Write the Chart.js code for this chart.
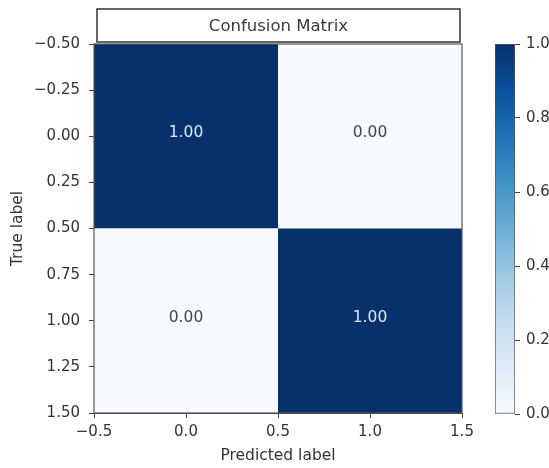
<!DOCTYPE html>
<html>
<head>
<meta charset="utf-8">
<script src="https://cdn.jsdelivr.net/npm/chart.js@4/dist/chart.umd.min.js"></script>
<style>
  html, body { margin: 0; padding: 0; background: #ffffff; }
  #wrap { position: relative; width: 549px; height: 468px; overflow: hidden; background: #fff; }
  #main { position: absolute; left: 0; top: 0; }
  #cbar { position: absolute; left: 480px; top: 0; }
</style>
</head>
<body>
<div id="wrap">
  <canvas id="main" width="549" height="468"></canvas>
  <canvas id="cbar" width="69" height="468"></canvas>
</div>
<script>
// ---- data ----
const chartTitle = 'Confusion Matrix';
const predictedLabels = [0, 1];          // columns (x)
const trueLabels = [0, 1];               // rows (y)
const row0Values = [1.00, 0.00];
const row1Values = [0.00, 1.00];
const xTickValues = [-0.5, 0.0, 0.5, 1.0, 1.5];
const yTickValues = [-0.5, -0.25, 0.0, 0.25, 0.5, 0.75, 1.0, 1.25, 1.5];
const colorbarTicks = [0.0, 0.2, 0.4, 0.6, 0.8, 1.0];
const matrixRows = [row0Values, row1Values];

// Matplotlib "Blues" colormap stops
const bluesStops = ['#f7fbff','#deebf7','#c6dbef','#9ecae1','#6baed6','#4292c6','#2171b5','#08519c','#08306b'];
function hexToRgb(h){ return [parseInt(h.substr(1,2),16),parseInt(h.substr(3,2),16),parseInt(h.substr(5,2),16)]; }
function blues(v){
  v = Math.max(0, Math.min(1, v));
  const p = v * (bluesStops.length - 1);
  const i = Math.min(Math.floor(p), bluesStops.length - 2);
  const f = p - i;
  const a = hexToRgb(bluesStops[i]), b = hexToRgb(bluesStops[i+1]);
  const c = a.map((x, k) => Math.round(x + (b[k] - x) * f));
  return `rgb(${c[0]},${c[1]},${c[2]})`;
}
const fmtMinus = s => s.replace('-', '\u2212');
const FONT = '"DejaVu Sans", sans-serif';
const TXT = '#333333';

const heatmapPlugin = {
  id: 'heatmap',
  beforeDatasetsDraw(chart) {
    const {ctx, scales: {x, y}} = chart;
    ctx.save();
    trueLabels.forEach((r, ri) => {
      predictedLabels.forEach((c, ci) => {
        const v = matrixRows[ri][ci];
        const x0 = x.getPixelForValue(c - 0.5), x1 = x.getPixelForValue(c + 0.5);
        const y0 = y.getPixelForValue(r - 0.5), y1 = y.getPixelForValue(r + 0.5);
        ctx.fillStyle = blues(v);
        ctx.fillRect(Math.min(x0,x1), Math.min(y0,y1), Math.abs(x1-x0), Math.abs(y1-y0));
      });
    });
    trueLabels.forEach((r, ri) => {
      predictedLabels.forEach((c, ci) => {
        const v = matrixRows[ri][ci];
        ctx.fillStyle = v > 0.5 ? '#dde7f6' : '#444444';
        ctx.font = '15.5px ' + FONT;
        ctx.textAlign = 'center';
        ctx.textBaseline = 'middle';
        ctx.fillText(v.toFixed(2), x.getPixelForValue(c), y.getPixelForValue(r) - 3);
      });
    });
    ctx.restore();
  },
  afterDraw(chart) {
    const {ctx, chartArea: a} = chart;
    ctx.save();
    ctx.strokeStyle = '#555555';
    ctx.lineWidth = 1.2;
    ctx.strokeRect(a.left, a.top, a.right - a.left, a.bottom - a.top);
    // title box
    const bx0 = a.left + 3, bx1 = a.right - 2, by0 = 9, by1 = a.top - 2;
    ctx.fillStyle = '#ffffff';
    ctx.fillRect(bx0, by0, bx1 - bx0, by1 - by0);
    ctx.strokeStyle = '#333333';
    ctx.lineWidth = 1.5;
    ctx.strokeRect(bx0, by0, bx1 - bx0, by1 - by0);
    ctx.fillStyle = '#3a3a3a';
    ctx.font = '16.5px ' + FONT;
    ctx.textAlign = 'center';
    ctx.textBaseline = 'middle';
    ctx.fillText(chartTitle, (bx0 + bx1) / 2, (by0 + by1) / 2 + 1);
    ctx.restore();
  }
};

new Chart(document.getElementById('main'), {
  type: 'scatter',
  data: { datasets: [{ data: [], pointRadius: 0 }] },
  options: {
    responsive: false,
    animation: false,
    events: [],
    layout: { padding: { top: 44, right: 87, left: 0, bottom: 0 } },
    plugins: { legend: { display: false }, tooltip: { enabled: false }, title: { display: false } },
    scales: {
      x: {
        type: 'linear', min: -0.5, max: 1.5,
        afterFit(s) { s.height = 55; },
        afterBuildTicks(s) { s.ticks = xTickValues.map(v => ({ value: v })); },
        ticks: { autoSkip: false, maxRotation: 0, padding: 5, color: TXT, font: { family: FONT, size: 15 },
                 callback: v => fmtMinus(Number(v).toFixed(1)) },
        grid: { display: true, drawOnChartArea: false, drawTicks: true, tickLength: 5, color: '#444' },
        border: { display: true, color: '#444' },
        title: { display: true, text: 'Predicted label', color: TXT, font: { family: FONT, size: 15.5 }, padding: { top: 0, bottom: 3 } }
      },
      y: {
        type: 'linear', min: -0.5, max: 1.5, reverse: true,
        afterFit(s) { s.width = 94; },
        afterBuildTicks(s) { s.ticks = yTickValues.map(v => ({ value: v })); },
        ticks: { autoSkip: false, padding: 9, color: TXT, font: { family: FONT, size: 15 },
                 callback: v => fmtMinus(Number(v).toFixed(2)) },
        grid: { display: true, drawOnChartArea: false, drawTicks: true, tickLength: 5, color: '#444' },
        border: { display: true, color: '#444' },
        title: { display: true, text: 'True label', color: TXT, font: { family: FONT, size: 15.5 }, padding: { top: 9, bottom: 0 } }
      }
    }
  },
  plugins: [heatmapPlugin]
});

// ---- colorbar ----
new Chart(document.getElementById('cbar'), {
  type: 'bar',
  data: {
    labels: ['cb'],
    datasets: [{
      data: [[0, 1]],
      barPercentage: 1.0, categoryPercentage: 1.0,
      borderWidth: 1, borderColor: '#555555', borderSkipped: false,
      backgroundColor(ctx) {
        const ch = ctx.chart, a = ch.chartArea;
        if (!a) return '#6baed6';
        const yS = ch.scales.y;
        const g = ch.ctx.createLinearGradient(0, yS.getPixelForValue(0), 0, yS.getPixelForValue(1));
        bluesStops.forEach((c, i) => g.addColorStop(i / (bluesStops.length - 1), c));
        return g;
      }
    }]
  },
  options: {
    responsive: false,
    animation: false,
    events: [],
    layout: { padding: { top: 44, bottom: 54, left: 15, right: 0 } },
    plugins: { legend: { display: false }, tooltip: { enabled: false } },
    scales: {
      x: { display: false },
      y: {
        position: 'right', min: 0, max: 1,
        afterFit(s) { s.width = 34; },
        afterBuildTicks(s) { s.ticks = colorbarTicks.map(v => ({ value: v })); },
        ticks: { autoSkip: false, padding: 6, color: TXT, font: { family: FONT, size: 15 },
                 callback: v => Number(v).toFixed(1) },
        grid: { display: true, drawOnChartArea: false, drawTicks: true, tickLength: 5, color: '#444' },
        border: { display: false }
      }
    }
  }
});
</script>
</body>
</html>
